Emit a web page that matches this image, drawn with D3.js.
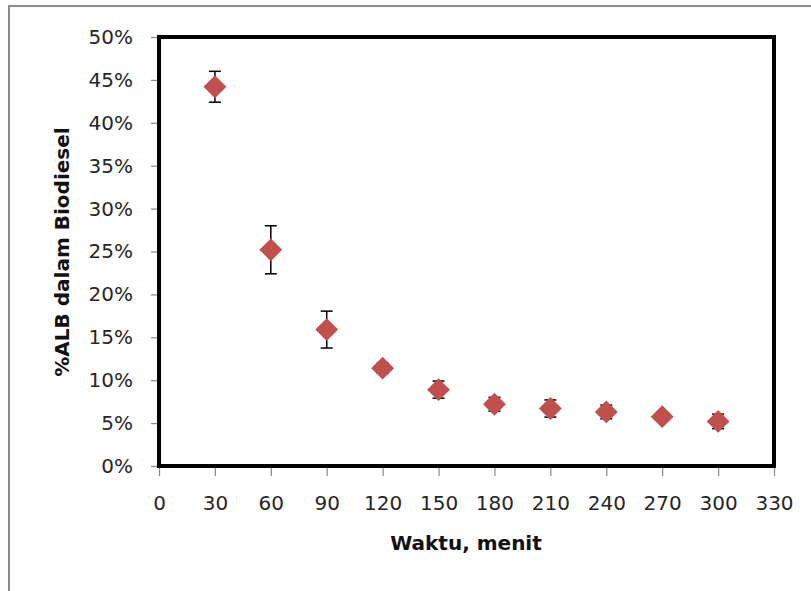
<!DOCTYPE html>
<html lang="en">
	<head>
		<meta charset="utf-8">
		<title>%ALB dalam Biodiesel</title>
		<script type="text/javascript" src="https://cdn.jsdelivr.net/npm/d3@7"></script>
		<style type="text/css">
			body {
				margin: 0px;
				background: white;
			}
			text {
				font-family: "DejaVu Sans", sans-serif;
			}
			.tick text {
				font-size: 20px;
				fill: #262626;
			}
			.tick line {
				stroke: #888;
				stroke-width: 1.2;
			}
			.axis-title {
				font-weight: bold;
				font-size: 20px;
				fill: #111;
			}
		</style>
	</head>
	<body>
		<script type="text/javascript">
			//Width and height
			var w = 811;
			var h = 591;

			//Data
			var waktu = [30, 60, 90, 120, 150, 180, 210, 240, 270, 300];
			var alb = [44.2, 25.2, 15.9, 11.4, 8.9, 7.2, 6.7, 6.3, 5.75, 5.2];
			var galat = [1.8, 2.8, 2.15, 0.6, 1.0, 0.8, 1.0, 0.8, 0.5, 0.85];
			var xTicks = [0, 30, 60, 90, 120, 150, 180, 210, 240, 270, 300, 330];
			var yTicks = [0, 5, 10, 15, 20, 25, 30, 35, 40, 45, 50];

			//Plot area (window.top is taken, so own names)
			var pLeft = 159, pRight = 774, pTop = 37, pBottom = 466;

			var svg = d3.select("body")
				.append("svg")
				.attr("width", w)
				.attr("height", h);

			//Outer chart border (cut off at right and bottom)
			svg.append("path")
				.attr("d", "M9," + h + "V6H" + w)
				.style("fill", "none")
				.style("stroke", "#8c8c8c")
				.style("stroke-width", 2);

			//Scales
			var x = d3.scaleLinear()
				.domain([0, 330])
				.range([pLeft, pRight]);

			var y = d3.scaleLinear()
				.domain([0, 50])
				.range([pBottom, pTop]);

			//Axes
			svg.append("g")
				.attr("transform", "translate(0," + pBottom + ")")
				.call(d3.axisBottom(x).tickValues(xTicks).tickSize(10).tickPadding(20))
				.call(function(g) { g.select(".domain").remove(); });

			svg.append("g")
				.attr("transform", "translate(" + pLeft + ",0)")
				.call(d3.axisLeft(y).tickValues(yTicks).tickSize(8).tickPadding(18)
					.tickFormat(function(d) { return d + "%"; }))
				.call(function(g) { g.select(".domain").remove(); });

			//Thick frame round the plot
			svg.append("rect")
				.attr("x", pLeft)
				.attr("y", pTop)
				.attr("width", pRight - pLeft)
				.attr("height", pBottom - pTop)
				.style("fill", "none")
				.style("stroke", "#000")
				.style("stroke-width", 4);

			//Error bars
			var err = svg.append("g")
				.style("stroke", "#000")
				.style("stroke-width", 1.5);

			waktu.forEach(function(t, i) {
				var cx = x(t);
				var y1 = y(alb[i] + galat[i]);
				var y2 = y(alb[i] - galat[i]);
				err.append("line").attr("x1", cx).attr("x2", cx).attr("y1", y1).attr("y2", y2);
				err.append("line").attr("x1", cx - 6).attr("x2", cx + 6).attr("y1", y1).attr("y2", y1);
				err.append("line").attr("x1", cx - 6).attr("x2", cx + 6).attr("y1", y2).attr("y2", y2);
			});

			//Diamond markers
			svg.append("g")
				.selectAll("path")
				.data(waktu)
				.enter()
				.append("path")
				.attr("d", d3.symbol().type(d3.symbolSquare).size(260))
				.attr("transform", function(d, i) {
					return "translate(" + x(d) + "," + y(alb[i]) + ") rotate(45)";
				})
				.style("fill", "#c0504d");

			//Axis titles
			svg.append("text")
				.attr("class", "axis-title")
				.attr("x", 466)
				.attr("y", 550)
				.attr("text-anchor", "middle")
				.text("Waktu, menit");

			svg.append("text")
				.attr("class", "axis-title")
				.attr("transform", "translate(69,252) rotate(-90)")
				.attr("text-anchor", "middle")
				.text("%ALB dalam Biodiesel");
		</script>
	</body>
</html>
